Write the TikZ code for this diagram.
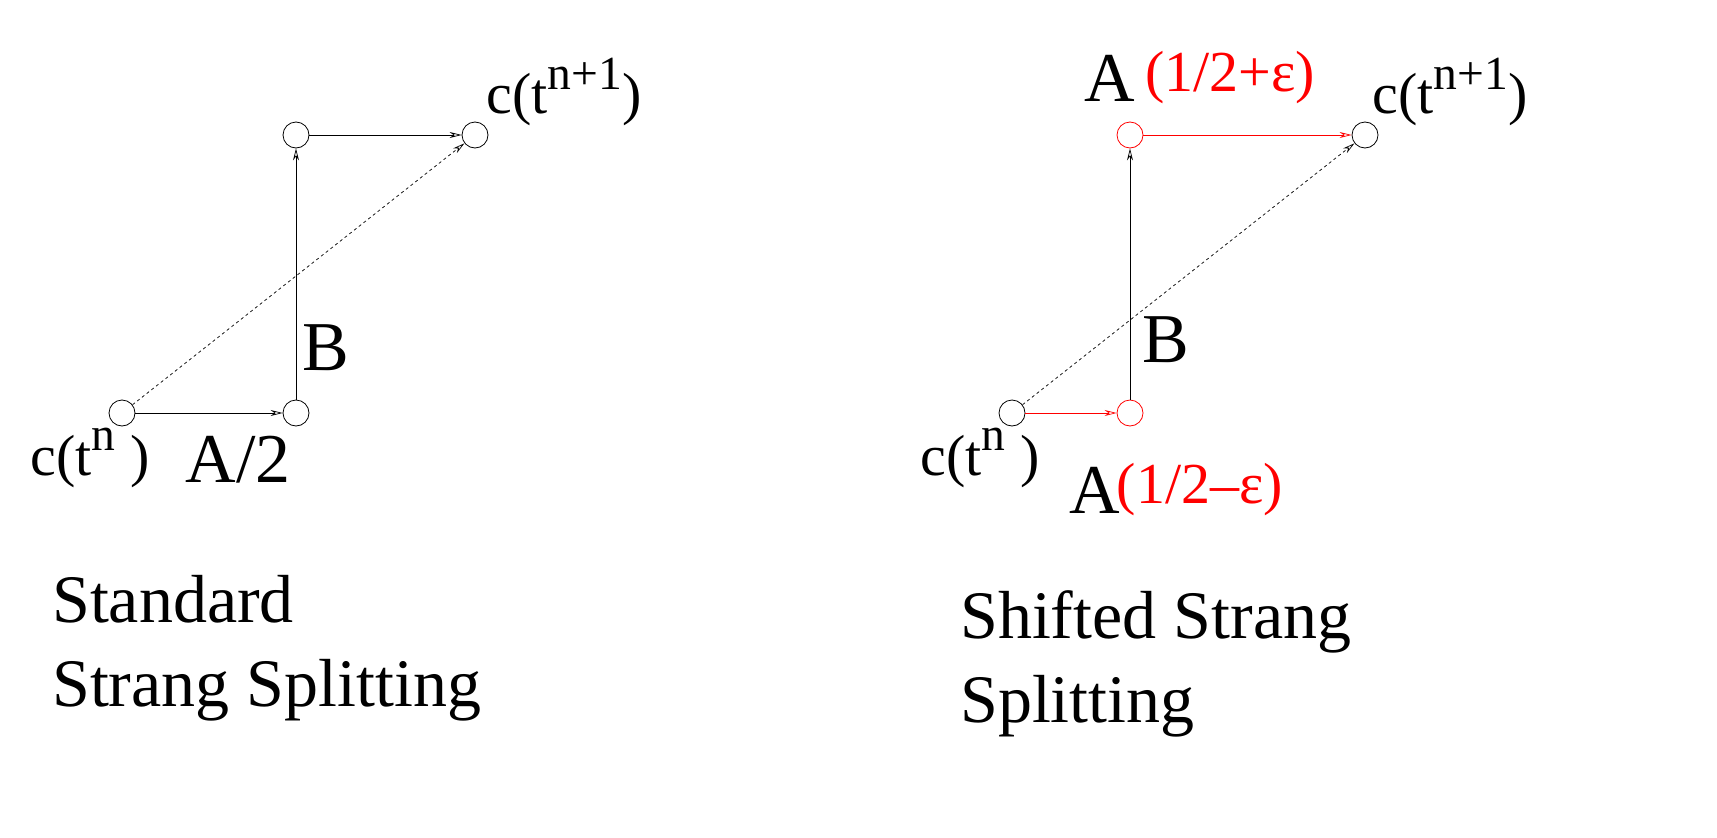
\documentclass[tikz,border=0pt]{standalone}
\usepackage{fontspec}
\setmainfont{Liberation Serif}
\usetikzlibrary{arrows.meta}
\newcommand{\mysup}[1]{\raisebox{0.42em}{\scalebox{0.82}{#1}}}
\begin{document}
\begin{tikzpicture}[x=1pt,y=-1pt,
  pt/.style={circle,draw,minimum size=26pt,inner sep=0pt,line width=0.8pt},
  rpt/.style={pt,draw=red},
  ar/.style={-{Stealth[length=12pt,width=6pt,open]},line width=0.7pt},
  lbl/.style={font=\fontsize{58}{62}\selectfont,inner sep=0pt},
  big/.style={font=\fontsize{70}{74}\selectfont,inner sep=0pt},
  rlbl/.style={font=\fontsize{58}{62}\selectfont,inner sep=0pt,red},
  captxt/.style={font=\fontsize{68}{84}\selectfont,align=left,anchor=north west,inner sep=0pt}]
\useasboundingbox (0,0) rectangle (1717,838);
% left
\node[pt] (a1) at (122,413) {};
\node[pt] (a2) at (296,413) {};
\node[pt] (a3) at (296,135) {};
\node[pt] (a4) at (475,135) {};
\draw[ar] (a1) -- (a2);
\draw[ar] (a2) -- (a3);
\draw[ar] (a3) -- (a4);
\draw[ar,dashed] (a1) -- (a4);
\node[lbl] (l1) at (564,92) {c(t\mysup{n+1})};
\node[lbl] (l2) at (90,458) {c(t\mysup{n} )};
\node[big] (l3) at (238,460) {A/2};
\node[big] (l4) at (326,348) {B};
\node[captxt] (l5) at (52,575) {Standard\\Strang Splitting};
% right
\node[pt] (b1) at (1012,413) {};
\node[rpt] (b2) at (1130,413) {};
\node[rpt] (b3) at (1130,135) {};
\node[pt] (b4) at (1365,135) {};
\draw[ar,red] (b1) -- (b2);
\draw[ar] (b2) -- (b3);
\draw[ar,red] (b3) -- (b4);
\draw[ar,dashed] (b1) -- (b4);
\node[lbl] (m1) at (1450,92) {c(t\mysup{n+1})};
\node[lbl] (m2) at (980,458) {c(t\mysup{n} )};
\node[big] (m3) at (1110,78) {A};
\node[rlbl] (m4) at (1230,78) {(1/2+ε)};
\node[big] (m5) at (1095,490) {A};
\node[rlbl] (m6) at (1200,490) {(1/2–ε)};
\node[big] (m7) at (1166,340) {B};
\node[captxt] (m8) at (960,590) {Shifted Strang\\Splitting};
\end{tikzpicture}
\end{document}
